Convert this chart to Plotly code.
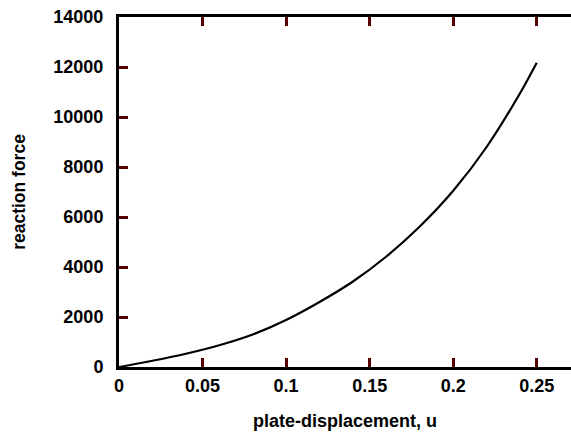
import plotly.graph_objects as go

u = [0, 0.02, 0.04, 0.06, 0.08, 0.10, 0.12, 0.14, 0.16, 0.18, 0.20, 0.22, 0.24, 0.25]
force = [0, 250, 530, 870, 1300, 1880, 2600, 3420, 4420, 5620, 7050, 8800, 10950, 12170]

x_ticks = [0, 0.05, 0.1, 0.15, 0.2, 0.25]
x_labels = ["0", "0.05", "0.1", "0.15", "0.2", "0.25"]
y_ticks = [0, 2000, 4000, 6000, 8000, 10000, 12000, 14000]
y_labels = ["0", "2000", "4000", "6000", "8000", "10000", "12000", "14000"]

fig = go.Figure()
fig.add_trace(go.Scatter(x=u, y=force, mode="lines",
                         line=dict(color="black", width=2.2, shape="spline", smoothing=0.8),
                         showlegend=False))

fam = "Liberation Sans, Arial, sans-serif"
tickfont = dict(size=18, family=fam, color="black", weight="bold")
fig.update_layout(
    width=571, height=433,
    margin=dict(l=119, r=0, t=17, b=66),
    paper_bgcolor="white", plot_bgcolor="white",
    font=dict(family=fam, color="black"),
    xaxis=dict(range=[0, 0.2705], tickvals=x_ticks, ticktext=x_labels,
               ticks="inside", ticklen=9, tickwidth=2.5, tickcolor="#550000",
               showline=True, linewidth=3, linecolor="black", mirror="ticks",
               showgrid=False, zeroline=False, layer="above traces",
               tickfont=tickfont,
               title=dict(text="plate-displacement, u", standoff=20,
                          font=dict(size=18, color="black", weight="bold"))),
    yaxis=dict(range=[0, 14000], tickvals=y_ticks, ticktext=y_labels,
               ticks="inside", ticklen=9, tickwidth=2.5, tickcolor="#550000",
               showline=True, linewidth=3, linecolor="black", mirror=False,
               showgrid=False, zeroline=False, layer="above traces",
               tickfont=tickfont, ticklabelstandoff=9,
               title=dict(text="reaction force", standoff=24,
                          font=dict(size=17.5, color="black", weight="bold"))),
)
fig.write_html("out.html")
